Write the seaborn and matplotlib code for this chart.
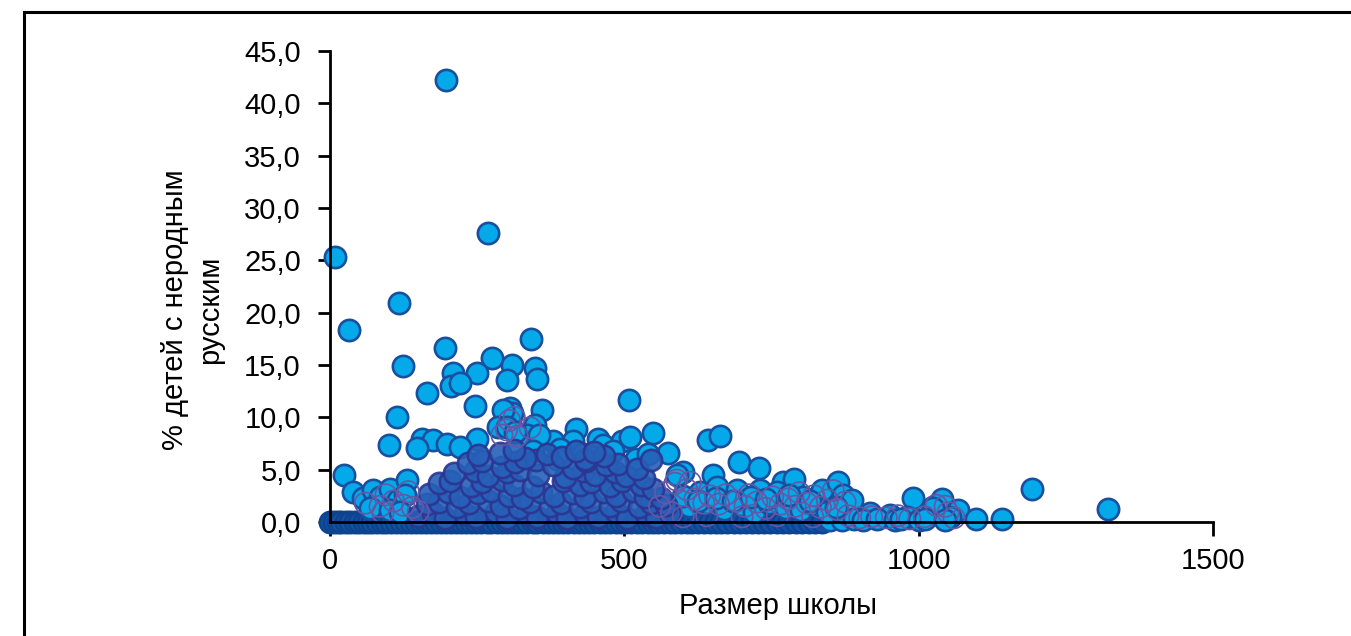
import matplotlib
matplotlib.use('Agg')
import matplotlib.pyplot as plt
from matplotlib.patches import Rectangle
from matplotlib.ticker import FuncFormatter
import pandas as pd
import seaborn as sns

# отдельные школы (светлые маркеры)
light_x = [197, 268, 8, 117, 32, 124, 195, 341, 275, 310, 209, 250, 205, 221, 300, 348, 351,
           165, 246, 508, 360, 114, 306, 309, 294, 100, 348, 285, 300, 418, 455, 464, 496, 510,
           549, 250, 156, 175, 199, 335, 357, 314, 379, 413, 355, 148, 221, 574, 600, 589, 642,
           662, 695, 729, 651, 629, 657, 691, 730, 770, 788, 759, 804, 836, 863, 871, 887, 990,
           917, 951, 980, 1024, 1040, 1025, 1067, 1053, 1097, 1141, 1192, 1322, 24, 39, 56, 73,
           85, 102, 116, 130, 127, 68, 102, 119, 850, 870, 890, 905, 930, 960, 970, 1000, 1010,
           1045, 610, 640, 670, 700, 720, 745, 775, 800, 820, 845, 860, 600, 625, 655, 685, 715,
           740, 780, 815, 345, 390, 430, 480, 520, 540, 385, 445]
light_y = [42.2, 27.6, 25.3, 20.9, 18.3, 14.9, 16.6, 17.5, 15.7, 15.0, 14.2, 14.2, 13.0, 13.3,
           13.6, 14.7, 13.7, 12.3, 11.1, 11.7, 10.7, 10.0, 10.9, 10.4, 10.7, 7.4, 9.3, 9.1, 9.1,
           8.9, 7.9, 7.4, 7.7, 8.1, 8.5, 7.9, 7.9, 7.8, 7.5, 8.3, 8.0, 8.6, 7.7, 7.7, 8.3, 7.1,
           7.2, 6.6, 4.8, 4.5, 7.8, 8.2, 5.7, 5.2, 4.5, 2.9, 3.3, 3.1, 3.1, 3.8, 4.1, 2.9, 2.4,
           3.1, 3.8, 2.6, 2.1, 2.3, 0.9, 0.7, 0.5, 1.4, 2.2, 1.3, 1.1, 0.5, 0.3, 0.3, 3.2, 1.2,
           4.5, 2.9, 2.3, 3.1, 2.4, 3.2, 2.1, 4.0, 2.6, 1.3, 1.1, 1.0, 0.2, 0.2, 0.3, 0.2, 0.3,
           0.2, 0.3, 0.2, 0.3, 0.2, 1.5, 1.8, 1.2, 1.6, 1.0, 1.8, 1.3, 1.1, 1.7, 1.0, 1.4, 2.5,
           2.0, 2.3, 2.0, 2.4, 2.2, 2.6, 2.0, 6.8, 7.0, 6.5, 6.8, 6.0, 6.5, 6.0, 6.2]

# плотное облако школ 150-580 учеников
dense_x = [150, 175, 196, 229, 248, 282, 301, 334, 352, 386, 403, 434, 455, 485, 504, 536, 553, 578,
           164, 186, 216, 236, 269, 290, 321, 340, 374, 393, 425, 444, 476, 494, 525, 545, 571,
           169, 200, 221, 252, 274, 304, 326, 359, 380, 413, 433, 465, 485, 515, 535, 562,
           186, 204, 239, 259, 292, 313, 345, 395, 424, 444, 475, 496, 529, 548,
           211, 246, 269, 301, 323, 354, 399, 430, 451, 484, 503, 534,
           235, 258, 293, 315, 350, 378, 412, 435, 469, 490, 522,
           251, 289, 331, 369, 394, 434, 466, 312, 418, 448, 546]
dense_y = [0.6, 0.9, 0.4, 0.8, 0.5, 1.0, 0.4, 0.8, 0.5, 0.9, 0.4, 0.8, 0.5, 1.0, 0.4, 0.8, 0.5, 0.9,
           1.7, 1.9, 1.4, 1.8, 2.0, 1.5, 1.3, 1.9, 1.5, 1.8, 1.4, 1.9, 1.5, 2.0, 1.4, 1.8, 1.6,
           2.7, 2.9, 2.4, 2.8, 3.0, 2.5, 2.3, 2.9, 2.5, 2.8, 2.4, 2.9, 2.5, 3.0, 2.4, 2.3,
           3.7, 3.9, 3.4, 3.8, 4.0, 3.5, 3.3, 3.9, 3.5, 3.8, 3.4, 3.9, 3.5, 3.2,
           4.7, 4.9, 4.4, 4.8, 5.0, 4.5, 4.3, 4.9, 4.5, 4.8, 4.4, 4.2,
           5.6, 5.8, 5.3, 5.7, 5.9, 5.4, 5.2, 5.8, 5.4, 5.5, 5.1,
           6.4, 6.6, 6.1, 6.5, 6.2, 6.0, 6.3, 6.9, 6.8, 6.7, 5.9]

# школы без детей с неродным русским
zero_x = [0, 6, 13, 19, 27, 34, 42, 49, 57, 64, 72, 80, 88, 95, 104, 112, 120, 129, 137, 146,
          154, 163, 171, 180, 188, 197, 205, 214, 222, 231, 240, 248, 257, 266, 274, 283, 292,
          300, 309, 318, 326, 335, 344, 352, 361, 370, 379, 388, 396, 405, 414, 423, 432, 440,
          449, 458, 467, 476, 485, 494, 503, 512, 521, 530, 540, 549, 558, 567, 577, 586, 596,
          606, 615, 625, 635, 645, 655, 665, 675, 686, 696, 706, 717, 727, 738, 748, 759, 770,
          780, 791, 802, 813, 824, 835]
zero_y = [0.0, 0.0, 0.0, 0.0, 0.0, 0.0, 0.0, 0.0, 0.0, 0.0, 0.0, 0.0, 0.0, 0.0, 0.0, 0.0, 0.0,
          0.0, 0.0, 0.0, 0.0, 0.0, 0.0, 0.0, 0.0, 0.0, 0.0, 0.0, 0.0, 0.0, 0.0, 0.0, 0.0, 0.0,
          0.0, 0.0, 0.0, 0.0, 0.0, 0.0, 0.0, 0.0, 0.0, 0.0, 0.0, 0.0, 0.0, 0.0, 0.0, 0.0, 0.0,
          0.0, 0.0, 0.0, 0.0, 0.0, 0.0, 0.0, 0.0, 0.0, 0.0, 0.0, 0.0, 0.0, 0.0, 0.0, 0.0, 0.0,
          0.0, 0.0, 0.0, 0.0, 0.0, 0.0, 0.0, 0.0, 0.0, 0.0, 0.0, 0.0, 0.0, 0.0, 0.0, 0.0, 0.0,
          0.0, 0.0, 0.0, 0.0, 0.0, 0.0, 0.0, 0.0, 0.0]

# "пустые" маркеры (контуры)
ring_x = [60, 85, 95, 108, 125, 140, 133, 150, 90, 300, 305, 313, 318, 292, 340, 586, 606, 589,
          612, 620, 635, 645, 660, 672, 690, 705, 712, 725, 740, 752, 765, 778, 790, 797, 810,
          822, 833, 845, 855, 862, 875, 880, 900, 920, 945, 965, 985, 1010, 1030, 1045, 1050,
          1060, 560, 570, 580, 600, 640, 700, 760, 820]
ring_y = [1.8, 1.5, 2.6, 2.0, 1.6, 1.4, 2.9, 1.0, 0.9, 8.8, 9.7, 10.0, 8.2, 8.3, 9.0, 3.7, 3.1,
          4.0, 3.8, 2.2, 1.8, 2.5, 1.7, 2.6, 2.0, 1.5, 2.6, 1.9, 1.3, 2.4, 1.7, 2.2, 1.5, 2.8,
          1.8, 2.5, 1.4, 2.1, 3.0, 1.2, 1.9, 0.6, 0.4, 0.5, 0.4, 0.6, 0.3, 0.5, 1.6, 1.5, 0.9,
          0.4, 1.5, 2.8, 0.9, 0.5, 0.6, 0.5, 0.6, 0.5]

x_ticks = [0, 500, 1000, 1500]
y_ticks = [0, 5, 10, 15, 20, 25, 30, 35, 40, 45]

sns.set_style('ticks')
plt.rcParams['font.family'] = ['Liberation Sans', 'DejaVu Sans']

fig = plt.figure(figsize=(13.51, 6.36), dpi=100)
ax = fig.add_axes([330 / 1351, 1 - 522 / 636, 883 / 1351, 471 / 636])

light = pd.DataFrame({'size': light_x, 'pct': light_y})
dense = pd.DataFrame({'size': dense_x, 'pct': dense_y})
zero = pd.DataFrame({'size': zero_x, 'pct': zero_y})
ring = pd.DataFrame({'size': ring_x, 'pct': ring_y})

common = dict(s=235, clip_on=False, ax=ax, legend=False)
sns.scatterplot(data=zero, x='size', y='pct', color='#1352A6', edgecolor='#0E4390',
                linewidth=1.9, zorder=3, **common)
sns.scatterplot(data=light, x='size', y='pct', color='#03A9E9', edgecolor='#1A4E9E',
                linewidth=1.9, zorder=4, **common)
sns.scatterplot(data=dense, x='size', y='pct', color='#2660B8', edgecolor='#2C3592',
                linewidth=1.9, alpha=0.9, zorder=5, **common)
sns.scatterplot(data=ring, x='size', y='pct', color='#6656A6', facecolor='none',
                edgecolor='#6656A6', linewidth=1.2, zorder=6, **common)

ax.set_xlim(0, 1500)
ax.set_ylim(0, 45)
ax.set_xticks(x_ticks)
ax.set_yticks(y_ticks)
ax.yaxis.set_major_formatter(FuncFormatter(lambda v, p: f'{v:.1f}'.replace('.', ',')))

for side in ['top', 'right']:
    ax.spines[side].set_visible(False)
for side in ['left', 'bottom']:
    ax.spines[side].set_linewidth(2)
    ax.spines[side].set_color('black')
    ax.spines[side].set_zorder(7)
ax.tick_params(axis='y', direction='out', length=9, width=2, pad=12, labelsize=21,
               colors='black')
ax.tick_params(axis='x', direction='out', length=10, width=2, pad=8, labelsize=21,
               colors='black')

ax.set_xlabel('Размер школы', fontsize=21, color='black')
ax.xaxis.set_label_coords(0.507, -0.148)
ax.set_ylabel('% детей с неродным\nрусским', fontsize=21, color='black', linespacing=1.3)
ax.yaxis.set_label_coords(-0.12, 0.45)

# рамка вокруг области диаграммы
fig.add_artist(Rectangle((24 / 1351, -0.2), 1.1, 1.2 - 12 / 636, transform=fig.transFigure,
                         fill=False, edgecolor='black', linewidth=2.2))

fig.savefig('out.png', dpi=100)
